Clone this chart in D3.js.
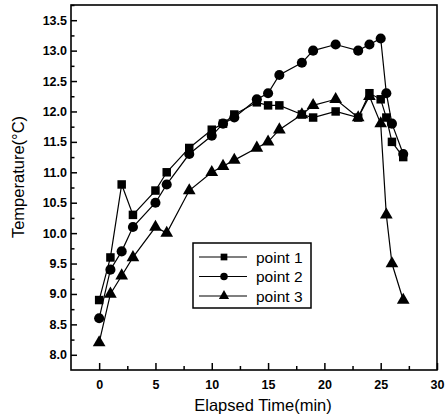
<!DOCTYPE html>
<html><head><meta charset="utf-8">
<script src="https://cdn.jsdelivr.net/npm/d3@7/dist/d3.min.js"></script>
<style>body{margin:0;background:#fff}svg{display:block}</style>
</head><body><svg id="c" width="448" height="416"></svg>
<script>
const times = [0,1,2,3,5,6,8,10,11,12,14,15,16,18,19,21,23,24,25,25.5,26,27];
const point1 = [8.9,9.6,10.8,10.3,10.7,11.0,11.4,11.7,11.8,11.95,12.15,12.1,12.1,11.95,11.9,12.0,11.9,12.3,12.2,11.9,11.5,11.25];
const point2 = [8.6,9.4,9.7,10.1,10.5,10.8,11.3,11.6,11.8,11.9,12.2,12.3,12.6,12.8,13.0,13.1,13.0,13.1,13.2,12.3,11.8,11.3];
const point3 = [8.2,9.0,9.3,9.6,10.1,10.0,10.7,11.0,11.1,11.2,11.4,11.5,11.7,11.95,12.1,12.2,11.9,12.25,11.8,10.3,9.5,8.9];
const seriesNames = ["point 1","point 2","point 3"];
const symbols = [d3.symbolSquare, d3.symbolCircle, d3.symbolTriangle];
const xTicks = [0,5,10,15,20,25,30];
const xMinor = [2.5,7.5,12.5,17.5,22.5,27.5];
const yTicks = [8.0,8.5,9.0,9.5,10.0,10.5,11.0,11.5,12.0,12.5,13.0,13.5];
const yMinor = [8.25,8.75,9.25,9.75,10.25,10.75,11.25,11.75,12.25,12.75,13.25,13.75];

const svg = d3.select("#c");
const L=71, R=437, T=5, B=370;
const x = d3.scaleLinear().domain([-2.5,30]).range([L,R]);
const y = d3.scaleLinear().domain([7.75,13.75]).range([B,T]);
const font = "'Liberation Sans', Arial, sans-serif";

// axes
const gx = svg.append("g").attr("transform",`translate(0,${B})`)
  .call(d3.axisBottom(x).tickValues(xTicks).tickSize(-7).tickPadding(10).tickFormat(d3.format("d")));
const gxm = svg.append("g").attr("transform",`translate(0,${B})`)
  .call(d3.axisBottom(x).tickValues(xMinor).tickSize(-4).tickFormat(""));
const gy = svg.append("g").attr("transform",`translate(${L},0)`)
  .call(d3.axisLeft(y).tickValues(yTicks).tickSize(-6).tickPadding(4).tickFormat(d3.format(".1f")));
const gym = svg.append("g").attr("transform",`translate(${L},0)`)
  .call(d3.axisLeft(y).tickValues(yMinor).tickSize(-3.5).tickFormat(""));
[gx,gxm,gy,gym].forEach(g=>{
  g.select(".domain").remove();
  g.selectAll(".tick line").attr("stroke","#000").attr("stroke-width",1.5);
  g.selectAll(".tick text").attr("fill","#000").style("font-family",font)
   .style("font-size","12.5px").style("font-weight","bold");
});

// frame
svg.append("rect").attr("x",L).attr("y",T).attr("width",R-L).attr("height",B-T)
  .attr("fill","none").attr("stroke","#000").attr("stroke-width",1.6);

// series
const data = [point1,point2,point3];
const sizes = [72,80,70];
const line = d3.line().x((d,i)=>x(times[i])).y(d=>y(d));
data.forEach((vals,k)=>{
  svg.append("path").datum(vals).attr("d",line).attr("fill","none")
    .attr("stroke","#000").attr("stroke-width",1.2);
});
data.forEach((vals,k)=>{
  svg.append("g").selectAll("path").data(vals).join("path")
    .attr("transform",(d,i)=>`translate(${x(times[i])},${y(d)})`)
    .attr("d",d3.symbol().type(symbols[k]).size(sizes[k])).attr("fill","#000");
});

// legend
const lg = svg.append("g");
lg.append("rect").attr("x",193).attr("y",243).attr("width",118).attr("height",65)
  .attr("fill","#fff").attr("stroke","#000").attr("stroke-width",1.5);
seriesNames.forEach((n,k)=>{
  const cy = 257 + k*19.5;
  lg.append("line").attr("x1",199).attr("x2",247).attr("y1",cy).attr("y2",cy)
    .attr("stroke","#000").attr("stroke-width",1.2);
  lg.append("path").attr("transform",`translate(224,${cy})`)
    .attr("d",d3.symbol().type(symbols[k]).size(45)).attr("fill","#000");
  lg.append("text").attr("x",256).attr("y",cy+5.5).text(n)
    .style("font-family",font).style("font-size","15.5px").attr("fill","#000");
});

// axis titles
svg.append("text").attr("x",263).attr("y",411).attr("text-anchor","middle")
  .style("font-family",font).style("font-size","16.5px").text("Elapsed Time(min)");
svg.append("text").attr("transform","translate(24,177) rotate(-90)").attr("text-anchor","middle")
  .style("font-family",font).style("font-size","16.5px").text("Temperature(°C)");
</script></body></html>
